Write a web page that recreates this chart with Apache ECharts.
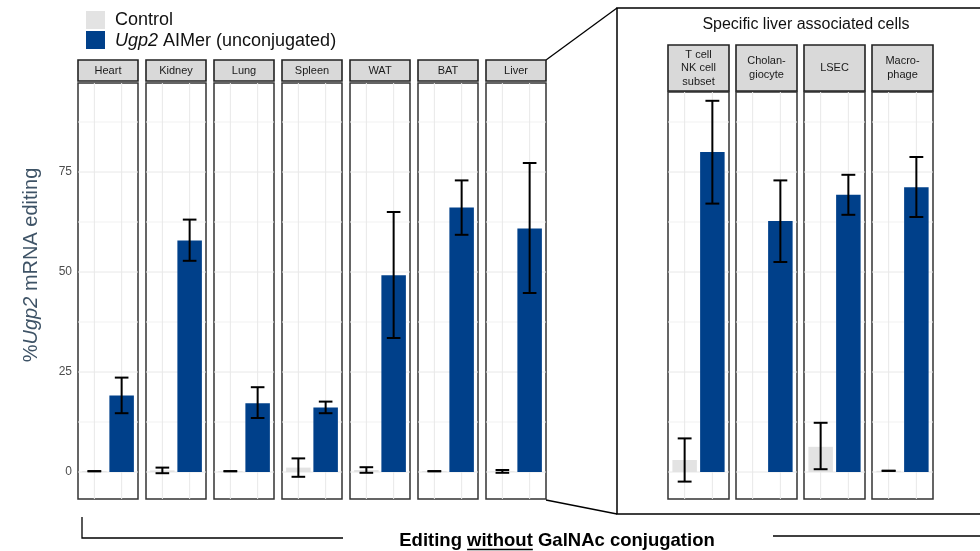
<!DOCTYPE html>
<html><head><meta charset="utf-8">
<script src="https://cdn.jsdelivr.net/npm/echarts@6/dist/echarts.min.js"></script>
<style>html,body{margin:0;padding:0;background:#fff}#c{width:980px;height:551px}</style>
</head><body><div id="c"></div>
<script>
// ---------------- data ----------------
const groups = ['Control', 'Ugp2 AIMer (unconjugated)'];

const tissues = ['Heart', 'Kidney', 'Lung', 'Spleen', 'WAT', 'BAT', 'Liver'];
const tissueControl     = [0.2, 0.4, 0.2, 1.1, 0.5, 0.2, 0.15];
const tissueControlLow  = [0.2, -0.3, 0.2, -1.2, -0.2, 0.2, -0.2];
const tissueControlHigh = [0.2, 1.1, 0.2, 3.4, 1.2, 0.2, 0.5];
const tissueAimer       = [19.1, 57.9, 17.2, 16.1, 49.2, 66.1, 60.9];
const tissueAimerLow    = [14.7, 52.8, 13.5, 14.7, 33.5, 59.3, 44.75];
const tissueAimerHigh   = [23.6, 63.1, 21.2, 17.6, 65.0, 72.9, 77.25];

const cellTypes = ['T cell\nNK cell\nsubset', 'Cholan-\ngiocyte', 'LSEC', 'Macro-\nphage'];
const cellControl     = [3.0, 0, 6.3, 0.3];
const cellControlLow  = [-2.4, null, 0.7, 0.3];
const cellControlHigh = [8.4, null, 12.3, 0.3];
const cellAimer       = [80.0, 62.75, 69.3, 71.2];
const cellAimerLow    = [67.1, 52.5, 64.3, 63.75];
const cellAimerHigh   = [92.8, 72.9, 74.3, 78.75];

const yTicks = [0, 25, 50, 75];
const yMinorTicks = [12.5, 37.5, 62.5, 87.5];

// ---------------- styling ----------------
const FONT = '"Liberation Sans", Arial, sans-serif';
const C_CTRL = '#e3e3e3';
const C_BLUE = '#00408a';
const GRID_MAJOR = '#e8e8e8';
const GRID_MINOR = '#f1f1f1';

// panel layout
const panels = [];
tissues.forEach((name, i) => panels.push({
  label: name, left: 78 + 68 * i, width: 60, top: 83, height: 416, yMax: 97.25,
  headerTop: 60, headerH: 21,
  ctrl: tissueControl[i], ctrlLo: tissueControlLow[i], ctrlHi: tissueControlHigh[i],
  aim: tissueAimer[i], aimLo: tissueAimerLow[i], aimHi: tissueAimerHigh[i]
}));
cellTypes.forEach((name, i) => panels.push({
  label: name, left: 668 + 68 * i, width: 61, top: 92, height: 407, yMax: 95,
  headerTop: 45, headerH: 46,
  ctrl: cellControl[i], ctrlLo: cellControlLow[i], ctrlHi: cellControlHigh[i],
  aim: cellAimer[i], aimLo: cellAimerLow[i], aimHi: cellAimerHigh[i]
}));

const grid = [], xAxis = [], yAxis = [], series = [], graphic = [];

function hLine(params, api) {
  const cs = params.coordSys;
  const y = api.coord([1, api.value(1)])[1];
  const major = api.value(2) === 1;
  return { type: 'line', shape: { x1: cs.x, y1: y, x2: cs.x + cs.width, y2: y },
    style: { stroke: major ? GRID_MAJOR : GRID_MINOR, lineWidth: 1 } };
}
function vLine(params, api) {
  const cs = params.coordSys;
  const x = api.coord([api.value(0), 0])[0];
  return { type: 'line', shape: { x1: x, y1: cs.y, x2: x, y2: cs.y + cs.height },
    style: { stroke: GRID_MAJOR, lineWidth: 1 } };
}
function errItem(params, api) {
  const x = api.value(0), lo = api.value(1), hi = api.value(2);
  const pLo = api.coord([x, lo]), pHi = api.coord([x, hi]);
  const l = api.coord([x - 0.25, hi])[0], r = api.coord([x + 0.25, hi])[0];
  const st = { stroke: '#000', lineWidth: 2 };
  return { type: 'group', children: [
    { type: 'line', shape: { x1: pLo[0], y1: pLo[1], x2: pHi[0], y2: pHi[1] }, style: st },
    { type: 'line', shape: { x1: l, y1: pHi[1], x2: r, y2: pHi[1] }, style: st },
    { type: 'line', shape: { x1: l, y1: pLo[1], x2: r, y2: pLo[1] }, style: st }
  ] };
}

panels.forEach((p, i) => {
  grid.push({ left: p.left, top: p.top, width: p.width, height: p.height, show: true,
    backgroundColor: '#fff', borderColor: '#333', borderWidth: 1.5, containLabel: false });
  xAxis.push({ type: 'value', gridIndex: i, min: 0.4, max: 2.6,
    axisLine: { show: false }, axisTick: { show: false }, axisLabel: { show: false }, splitLine: { show: false } });
  yAxis.push({ type: 'value', gridIndex: i, min: -6.75, max: p.yMax,
    axisLine: { show: false }, axisTick: { show: false }, splitLine: { show: false },
    axisLabel: i === 0 ? { show: true, customValues: yTicks, color: '#4d4d4d', fontSize: 12, fontFamily: FONT, margin: 6 } : { show: false } });

  const hData = yTicks.map(v => [1, v, 1]).concat(yMinorTicks.map(v => [1, v, 0]));
  series.push({ type: 'custom', xAxisIndex: i, yAxisIndex: i, z: 1, silent: true, renderItem: hLine, data: hData });
  series.push({ type: 'custom', xAxisIndex: i, yAxisIndex: i, z: 1, silent: true, renderItem: vLine,
    data: groups.map((g, k) => [k + 1, 0]) });

  series.push({ type: 'bar', xAxisIndex: i, yAxisIndex: i, z: 2, barWidth: 24.5, silent: true,
    data: [
      { value: [1, p.ctrl], itemStyle: { color: C_CTRL } },
      { value: [2, p.aim], itemStyle: { color: C_BLUE } }
    ] });

  const err = [];
  if (p.ctrlLo !== null) err.push([1, p.ctrlLo, p.ctrlHi]);
  err.push([2, p.aimLo, p.aimHi]);
  series.push({ type: 'custom', xAxisIndex: i, yAxisIndex: i, z: 3, silent: true, renderItem: errItem, data: err });

  // strip header
  graphic.push({ type: 'rect', shape: { x: p.left, y: p.headerTop, width: p.width, height: p.headerH },
    style: { fill: '#d9d9d9', stroke: '#222', lineWidth: 1.6 }, z: 10 });
  graphic.push({ type: 'text', x: p.left + p.width / 2, y: p.headerTop + p.headerH / 2, z: 11,
    style: { text: p.label, fill: '#1a1a1a', font: '11px ' + FONT, textAlign: 'center', textVerticalAlign: 'middle', lineHeight: 13.5 } });
});

// legend
graphic.push({ type: 'rect', shape: { x: 86, y: 11, width: 19, height: 18 }, style: { fill: C_CTRL } });
graphic.push({ type: 'rect', shape: { x: 86, y: 31, width: 19, height: 18 }, style: { fill: C_BLUE } });
graphic.push({ type: 'text', x: 115, y: 20, style: { text: groups[0], fill: '#111', font: '18px ' + FONT, textVerticalAlign: 'middle' } });
graphic.push({ type: 'text', x: 115, y: 41, style: {
  text: '{i|Ugp2} AIMer (unconjugated)', fill: '#111', font: '18px ' + FONT, textVerticalAlign: 'middle',
  rich: { i: { fontStyle: 'italic', fontSize: 18, fontFamily: FONT, fill: '#111' } } } });

// y-axis title
graphic.push({ type: 'text', x: 31, y: 265, rotation: Math.PI / 2, style: {
  text: '%{i|Ugp2} mRNA editing', fill: '#3e5366', font: '20px ' + FONT, textAlign: 'center', textVerticalAlign: 'middle',
  rich: { i: { fontStyle: 'italic', fontSize: 20, fontFamily: FONT, fill: '#3e5366' } } } });

// zoom-box and connectors
graphic.push({ type: 'rect', shape: { x: 617, y: 8, width: 420, height: 506 }, style: { fill: 'none', stroke: '#000', lineWidth: 1.5 }, z: 0 });
graphic.push({ type: 'line', shape: { x1: 546, y1: 60, x2: 617, y2: 8 }, style: { stroke: '#000', lineWidth: 1.3 } });
graphic.push({ type: 'line', shape: { x1: 546, y1: 500, x2: 617, y2: 514 }, style: { stroke: '#000', lineWidth: 1.3 } });
graphic.push({ type: 'text', x: 806, y: 25, style: { text: 'Specific liver associated cells', fill: '#111', font: '16px ' + FONT, textAlign: 'center', textVerticalAlign: 'middle' } });

// bottom bracket + caption
graphic.push({ type: 'polyline', shape: { points: [[82, 517], [82, 538], [343, 538]] }, style: { fill: 'none', stroke: '#000', lineWidth: 1.3 } });
graphic.push({ type: 'line', shape: { x1: 773, y1: 536, x2: 985, y2: 536 }, style: { stroke: '#000', lineWidth: 1.3 } });
const capFont = 'bold 18.5px ' + FONT;
const mctx = document.createElement('canvas').getContext('2d');
mctx.font = capFont;
const w1 = mctx.measureText('Editing ').width, w2 = mctx.measureText('without').width;
const wAll = mctx.measureText('Editing without GalNAc conjugation').width;
const capX = 557 - wAll / 2;
graphic.push({ type: 'text', x: capX, y: 541, style: { text: 'Editing without GalNAc conjugation', fill: '#000', font: capFont, textVerticalAlign: 'middle' } });
graphic.push({ type: 'line', shape: { x1: capX + w1, y1: 549.5, x2: capX + w1 + w2, y2: 549.5 }, style: { stroke: '#000', lineWidth: 1.3 } });

const chart = echarts.init(document.getElementById('c'), null, { renderer: 'canvas' });
chart.setOption({ animation: false, backgroundColor: '#fff', grid, xAxis, yAxis, series, graphic });
</script></body></html>
